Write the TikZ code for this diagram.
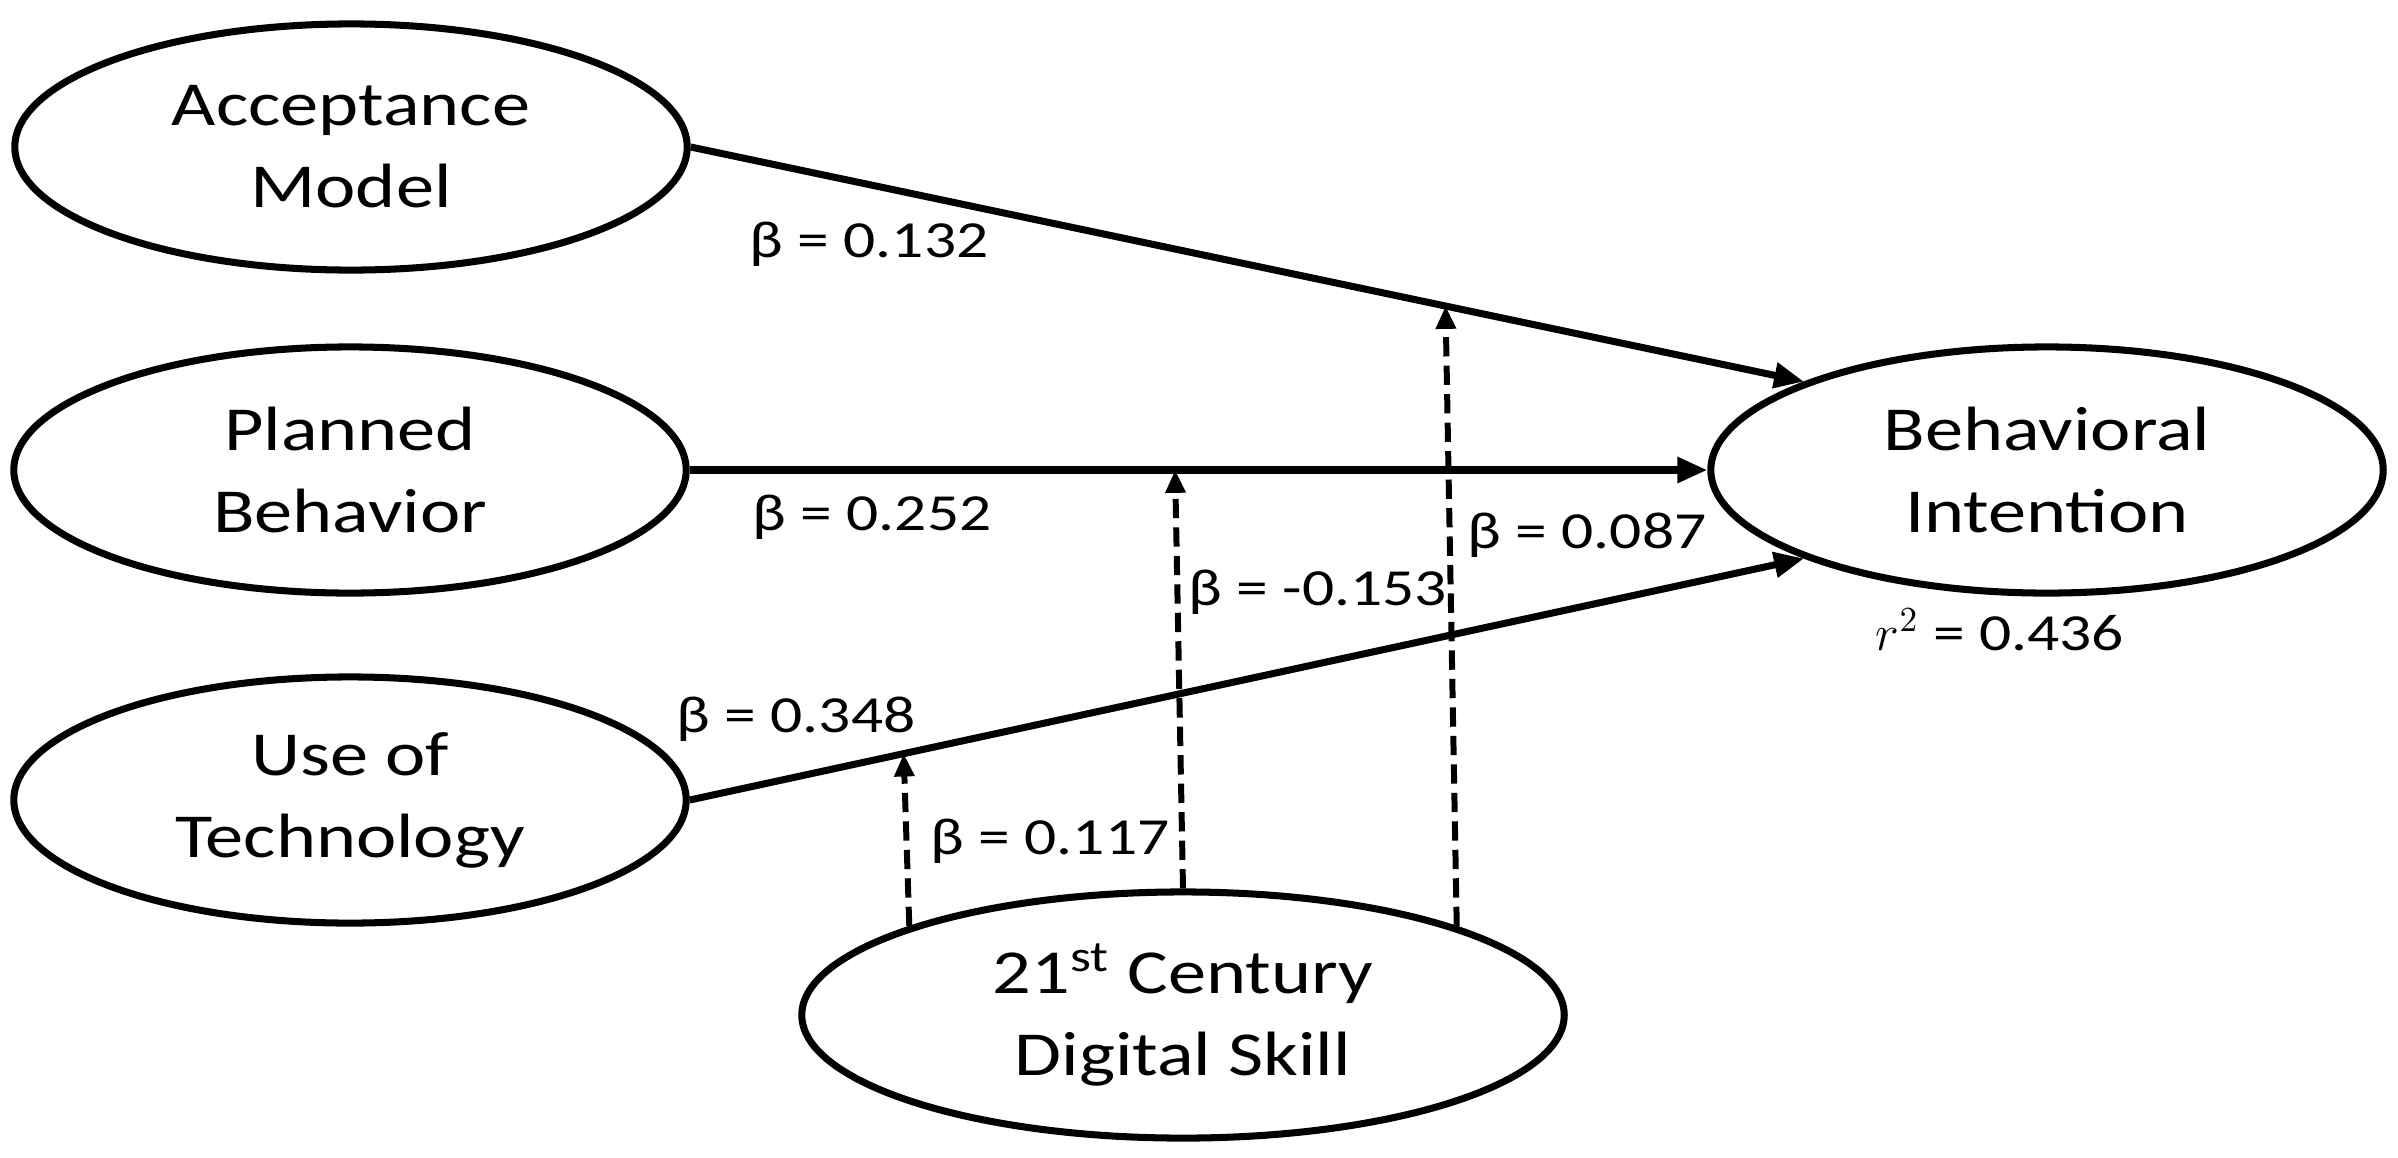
\documentclass[tikz,border=0pt]{standalone}
\usepackage{fontspec}
\setmainfont{Carlito}[FakeStretch=1.22]
\usetikzlibrary{arrows.meta,calc,shapes.geometric}
\begin{document}
\begin{tikzpicture}[x=0.01cm,y=-0.01cm,
  ell/.style={ellipse,draw,line width=2pt,inner sep=0pt,align=center,
    minimum width=6.72cm,minimum height=2.46cm,
    font=\fontsize{17.8}{23.3}\selectfont},
  sol/.style={line width=2pt,-{Triangle[length=8.5pt,width=7pt]}},
  dsh/.style={line width=1.7pt,dash pattern=on 5.5pt off 2.6pt,
    -{Triangle[length=6.5pt,width=5.5pt]}},
  lab/.style={anchor=base,inner sep=0pt,font=\fontsize{14.8}{17}\selectfont}]
\useasboundingbox (0,0) rectangle (2398,1157);
\node[ell] (AM) at (351,147) {Acceptance\\Model};
\node[ell] (PB) at (350,470) {Planned\\Behavior};
\node[ell] (UT) at (350,800) {Use of\\Technology};
\node[ell] (BI) at (2047,470) {Behavioral\\Intention};
\node[ell,minimum width=7.62cm] (DS) at (1183,1015) {21\textsuperscript{st} Century\\Digital Skill};
\draw[sol] (AM.east) -- (BI.160);
\draw[sol] (PB.east) -- (BI.west);
\draw[sol] (UT.east) -- (BI.200);
\coordinate (m1) at ($(UT.east)!0.192!(BI.200)$);
\coordinate (m2) at ($(PB.east)!0.477!(BI.west)$);
\coordinate (m3) at ($(AM.east)!0.678!(BI.160)$);
\draw[dsh] (DS.162) -- (m1);
\draw[dsh] (DS.north) -- (m2);
\draw[dsh] (DS.18) -- (m3);
\node[lab] (l1) at (869,257) {β = 0.132};
\node[lab] (l2) at (872,530) {β = 0.252};
\node[lab] (l3) at (796,732) {β = 0.348};
\node[lab] (l4) at (1050,854) {β = 0.117};
\node[lab] (l5) at (1318,605) {β = -0.153};
\node[lab] (l6) at (1587,548) {β = 0.087};
\node[lab] (l7) at (2000,650) {$r^{2}$ = 0.436};
\end{tikzpicture}
\end{document}
